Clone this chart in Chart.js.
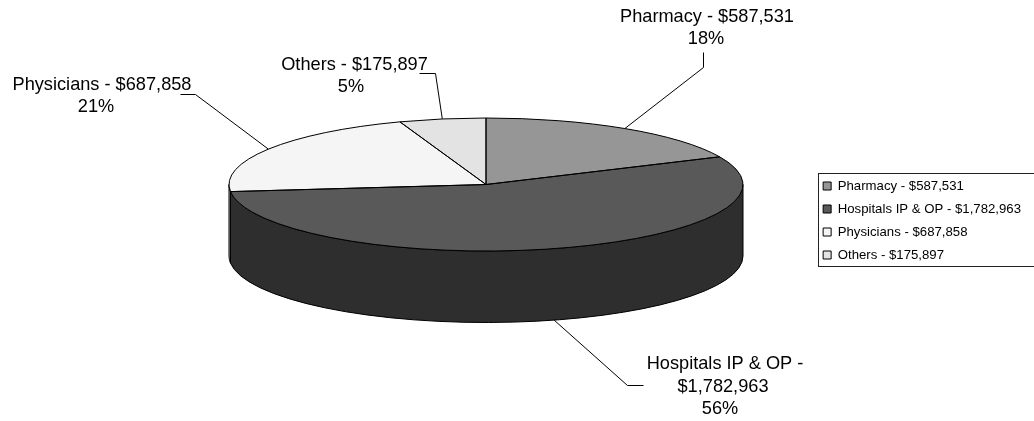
<!DOCTYPE html>
<html>
<head>
<meta charset="utf-8">
<style>
  html, body { margin: 0; padding: 0; background: #fff; }
  #wrap { width: 1034px; height: 421px; }
</style>
<script src="https://cdn.jsdelivr.net/npm/chart.js@4"></script>
</head>
<body>
<div id="wrap"><canvas id="chart" width="1034" height="421"></canvas></div>
<script>
const categories = ["Pharmacy", "Hospitals IP & OP", "Physicians", "Others"];
const amounts = [587531, 1782963, 687858, 175897];
const percentLabels = ["18%", "56%", "21%", "5%"];

const topColors = ["#969696", "#595959", "#f5f5f5", "#e3e3e3"];
const wallColors = ["#6e6e6e", "#2e2e2e", "#b0b0b0", "#a5a5a5"];

const fontName = '"Liberation Sans", Arial, sans-serif';
const money = v => "$" + v.toLocaleString("en-US");
const legendLabels = categories.map((c, i) => c + " - " + money(amounts[i]));

// the flattened pie on the page
const pie = { x: 486, y: 184.5, rx: 257, ry: 66.5, depth: 71.5 };

// callout text and elbow points, same order as the categories
const callouts = [
  { lines: [[legendLabels[0], 707, 17], [percentLabels[0], 706, 39]], elbow: [[703, 67], [703, 52]], side: 0 },
  { lines: [[categories[1] + " -", 725, 364], [money(amounts[1]), 723, 387], [percentLabels[1], 720, 409]], elbow: [[627, 385], [643, 385]], side: 1 },
  { lines: [[legendLabels[2], 102, 85], [percentLabels[2], 96, 107]], elbow: [[195, 94], [180, 94]], side: 0 },
  { lines: [[legendLabels[3], 354.5, 65], [percentLabels[3], 351, 87]], elbow: [[435, 73], [419, 73]], side: 0 }
];

function wallPath(ctx, a, b) {
  ctx.beginPath();
  ctx.ellipse(pie.x, pie.y, pie.rx, pie.ry, 0, a, b);
  ctx.ellipse(pie.x, pie.y + pie.depth, pie.rx, pie.ry, 0, b, a, true);
  ctx.closePath();
}

const flatPie = {
  id: "flatPie",
  beforeDatasetsDraw(chart) {
    const ctx = chart.ctx;
    const arcs = chart.getDatasetMeta(0).data;
    const el = arcs[0];
    const r = el.outerRadius;
    // walls of the front half first
    ctx.save();
    ctx.lineWidth = 1;
    ctx.strokeStyle = "#000";
    arcs.forEach((arc, i) => {
      const a = Math.max(arc.startAngle, 0);
      const b = Math.min(arc.endAngle, Math.PI);
      if (b <= a) return;
      wallPath(ctx, a, b);
      ctx.fillStyle = wallColors[i];
      ctx.fill();
      ctx.stroke();
    });
    ctx.restore();
    // the library's arcs get squashed into the ellipse
    ctx.save();
    ctx.translate(pie.x, pie.y);
    ctx.scale(pie.rx / r, pie.ry / r);
    ctx.translate(-el.x, -el.y);
  },
  afterDatasetsDraw(chart) {
    const ctx = chart.ctx;
    ctx.restore();
    const arcs = chart.getDatasetMeta(0).data;
    ctx.save();
    ctx.lineWidth = 1;
    ctx.strokeStyle = "#000";
    arcs.forEach(arc => {
      ctx.beginPath();
      ctx.moveTo(pie.x, pie.y);
      ctx.ellipse(pie.x, pie.y, pie.rx, pie.ry, 0, arc.startAngle, arc.endAngle);
      ctx.closePath();
      ctx.stroke();
    });
    // callouts
    ctx.fillStyle = "#000";
    ctx.font = "18.2px " + fontName;
    ctx.textAlign = "center";
    ctx.textBaseline = "middle";
    arcs.forEach((arc, i) => {
      const c = callouts[i];
      const mid = (arc.startAngle + arc.endAngle) / 2;
      const sx = pie.x + pie.rx * Math.cos(mid);
      const sy = pie.y + pie.ry * Math.sin(mid) + (c.side ? pie.depth : 0);
      ctx.beginPath();
      ctx.moveTo(sx, sy);
      c.elbow.forEach(p => ctx.lineTo(p[0] + 0.5, p[1] + 0.5));
      ctx.stroke();
      c.lines.forEach(l => ctx.fillText(l[0], l[1], l[2]));
    });
    ctx.restore();
  },
  afterDraw(chart) {
    // frame round the legend, open at the canvas edge
    const ctx = chart.ctx;
    const boxes = chart.legend.legendHitBoxes;
    const last = boxes[boxes.length - 1];
    const left = Math.round(boxes[0].left) - 5;
    const top = Math.round(boxes[0].top - 6);
    const bottom = Math.round(last.top + last.height + 4);
    ctx.save();
    ctx.strokeStyle = "#222";
    ctx.lineWidth = 1;
    ctx.strokeRect(left + 0.5, top + 0.5, chart.width - left + 4, bottom - top);
    ctx.restore();
  }
};

new Chart(document.getElementById("chart"), {
  type: "pie",
  data: {
    labels: legendLabels,
    datasets: [{
      data: amounts,
      backgroundColor: topColors,
      borderWidth: 0,
      hoverOffset: 0,
      clip: false
    }]
  },
  options: {
    responsive: false,
    animation: false,
    layout: { padding: { top: 20, right: 3 } },
    plugins: {
      tooltip: { enabled: false },
      legend: {
        position: "right",
        align: "center",
        labels: {
          boxWidth: 8,
          boxHeight: 8,
          padding: 9.8,
          color: "#000",
          font: { family: fontName, size: 13.2 },
          generateLabels(chart) {
            return Chart.overrides.pie.plugins.legend.labels.generateLabels(chart).map(item => {
              item.strokeStyle = "#000";
              item.lineWidth = 1;
              return item;
            });
          }
        }
      }
    }
  },
  plugins: [flatPie]
});
</script>
</body>
</html>
